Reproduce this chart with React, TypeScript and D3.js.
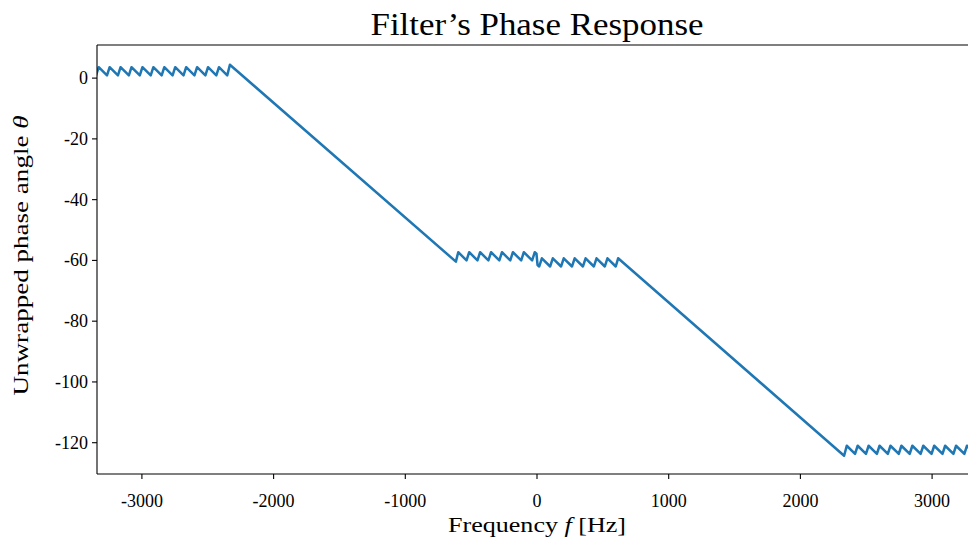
import React from "react";
import * as d3 from "d3";

const freqHz: number[] = [
  -3348, -3328, -3265, -3245, -3182, -3162, -3099, -3079, -3016, -2996,
  -2933, -2913, -2850, -2830, -2767, -2747, -2684, -2664, -2601, -2581,
  -2518, -2498, -2435, -2415, -2352, -2332,
  -616, -598, -535, -515, -452, -432, -369, -349, -286, -266,
  -203, -183, -120, -100, -37, -17, -4, 4,
  17, 37, 100, 120, 183, 203, 266, 286, 349, 369,
  432, 452, 515, 535, 598, 616,
  2332, 2352, 2415, 2435, 2498, 2518, 2581, 2601, 2664, 2684,
  2747, 2767, 2830, 2850, 2913, 2933, 2996, 3016, 3079, 3099,
  3162, 3182, 3245, 3265, 3328, 3348,
];

const phaseRad: number[] = [
  0.9, 3.6, 0.9, 3.6, 0.9, 3.6, 0.9, 3.6, 0.9, 3.6,
  0.9, 3.6, 0.9, 3.6, 0.9, 3.6, 0.9, 3.6, 0.9, 3.6,
  0.9, 3.6, 0.9, 3.6, 0.9, 4.4,
  -60.4, -57.3, -60.0, -57.3, -60.0, -57.3, -60.0, -57.3, -60.0, -57.3,
  -60.0, -57.3, -60.0, -57.3, -60.0, -57.3, -57.8, -61.5,
  -62.0, -59.3, -62.0, -59.3, -62.0, -59.3, -62.0, -59.3, -62.0, -59.3,
  -62.0, -59.3, -62.0, -59.3, -62.0, -59.3,
  -124.3, -121.0, -123.7, -121.0, -123.7, -121.0, -123.7, -121.0, -123.7, -121.0,
  -123.7, -121.0, -123.7, -121.0, -123.7, -121.0, -123.7, -121.0, -123.7, -121.0,
  -123.7, -121.0, -123.7, -121.0, -123.7, -121.0,
];

const xTicks: number[] = [-3000, -2000, -1000, 0, 1000, 2000, 3000];
const yTicks: number[] = [0, -20, -40, -60, -80, -100, -120];

const titleText = "Filter\u2019s Phase Response";

export default function App() {
  const W = 968;
  const H = 541;
  const left = 97;
  const right = 977;
  const top = 45;
  const bottom = 474;

  const x = d3.scaleLinear().domain([-3341, 3341]).range([left, right]);
  const y = d3.scaleLinear().domain([-130.3, 10.9]).range([bottom, top]);

  const pts: [number, number][] = freqHz.map((f, i) => [f, phaseRad[i]]);
  const line = d3
    .line<[number, number]>()
    .x((d) => x(d[0]))
    .y((d) => y(d[1]));

  const font = "'Liberation Serif', 'DejaVu Serif', serif";

  return (
    <svg
      width={W}
      height={H}
      style={{ position: "absolute", left: 0, top: 0, background: "#fff" }}
      fontFamily={font}
    >
      <defs>
        <clipPath id="plotclip">
          <rect x={left} y={top} width={right - left} height={bottom - top} />
        </clipPath>
      </defs>
      <rect x={0} y={0} width={W} height={H} fill="#fff" />
      <path
        d={line(pts) || ""}
        fill="none"
        stroke="#1f77b4"
        strokeWidth={2.5}
        strokeLinejoin="round"
        strokeLinecap="square"
        clipPath="url(#plotclip)"
      />
      <line x1={left} y1={top} x2={left} y2={bottom} stroke="#000" strokeWidth={1.1} />
      <line x1={left} y1={bottom} x2={right} y2={bottom} stroke="#000" strokeWidth={1.1} />
      <line x1={left} y1={top} x2={right} y2={top} stroke="#000" strokeWidth={1.1} />
      <line x1={right} y1={top} x2={right} y2={bottom} stroke="#000" strokeWidth={1.1} />
      {xTicks.map((t) => (
        <g key={"x" + t}>
          <line x1={x(t)} x2={x(t)} y1={bottom} y2={bottom + 5} stroke="#000" strokeWidth={1.1} />
          <text x={x(t)} y={bottom + 33} textAnchor="middle" fontSize={18}>
            {String(t)}
          </text>
        </g>
      ))}
      {yTicks.map((t) => (
        <g key={"y" + t}>
          <line x1={left - 5} x2={left} y1={y(t)} y2={y(t)} stroke="#000" strokeWidth={1.1} />
          <text x={left - 9} y={y(t) + 6} textAnchor="end" fontSize={18}>
            {String(t)}
          </text>
        </g>
      ))}
      <text
        x={(left + right) / 2}
        y={35}
        textAnchor="middle"
        fontSize={32}
        textLength={333}
        lengthAdjust="spacingAndGlyphs"
      >
        {titleText}
      </text>
      <text
        x={(left + right) / 2}
        y={532}
        textAnchor="middle"
        fontSize={22}
        textLength={178}
        lengthAdjust="spacingAndGlyphs"
      >
        Frequency <tspan fontStyle="italic">f</tspan> [Hz]
      </text>
      <text
        transform={`translate(28, ${(top + bottom) / 2 - 4}) rotate(-90)`}
        textAnchor="middle"
        fontSize={22}
        textLength={280}
        lengthAdjust="spacingAndGlyphs"
      >
        Unwrapped phase angle <tspan fontStyle="italic">θ</tspan>
      </text>
    </svg>
  );
}
